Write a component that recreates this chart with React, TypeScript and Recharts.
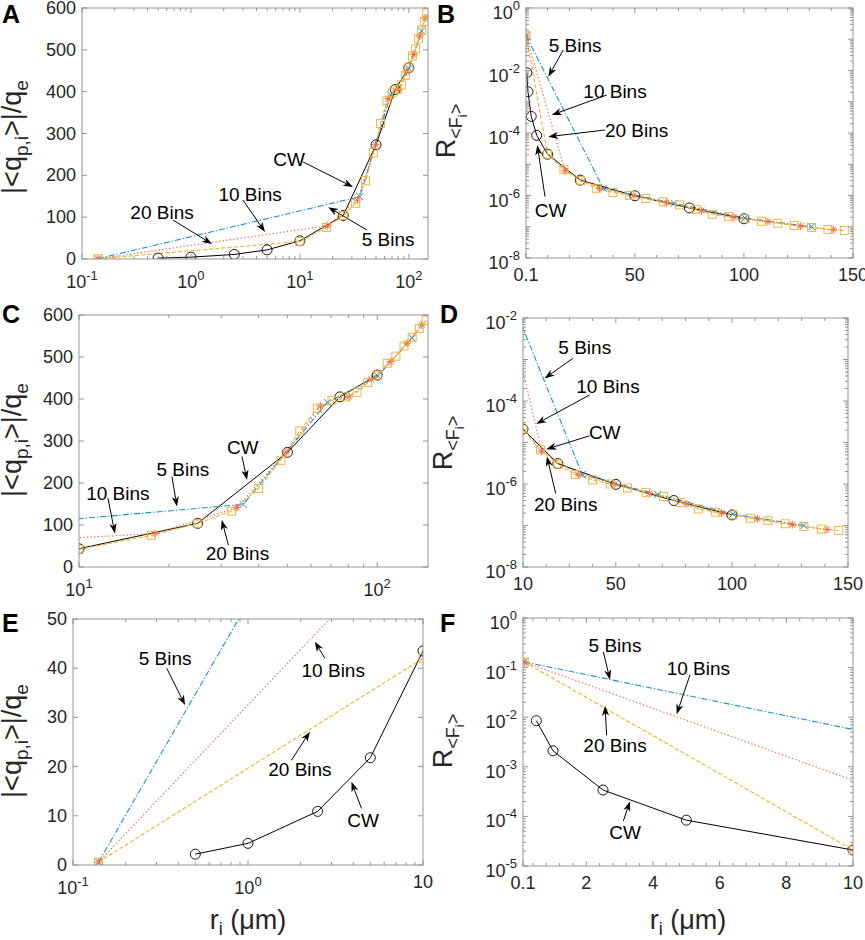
import React from 'react';
import { LineChart, Line, XAxis, YAxis, ReferenceLine, ReferenceDot } from 'recharts';

const FONT = '"Liberation Sans", Arial, Helvetica, sans-serif';
const INK = '#262626';

// ---------------- data ----------------
const cwRadius = [0.5, 1, 2.5, 5, 10, 25, 50, 75, 100];
const cwCharge = [2.2, 4.4, 10.9, 21.8, 43.5, 104, 273, 405, 457];
const cwRatio = [8.5e-3, 2.1e-3, 3.4e-4, 8.4e-5, 2.1e-5, 3.1e-6, 9.8e-7, 4.0e-7, 1.8e-7];

const bins5Radius = [0.14, 35.5, 68, 100.5, 131];
const bins5Charge = [0.6, 149, 392, 455, 545];
const bins5Ratio = [0.13, 1.7e-6, 5.6e-7, 1.9e-7, 1.0e-7];

const bins10Radius = [0.14, 18, 33.8, 49.5, 64.5, 80.5, 95.5, 111, 126, 141];
const bins10Charge = [0.6, 79.5, 141, 273, 383, 405, 447, 489, 533, 576];
const bins10Ratio = [0.13, 6.2e-6, 1.7e-6, 1.0e-6, 5.9e-7, 3.3e-7, 2.0e-7, 1.45e-7, 1.05e-7, 8.0e-8];

const bins20Radius = [0.14, 10, 17.5, 25, 32.5, 40, 47.5, 55, 63, 70.5, 78, 85.5, 93, 100.5, 108, 115.5, 123, 131, 138.5, 146];
const bins20Charge = [0.6, 42, 75.5, 104, 133, 187, 254, 324, 378, 397, 405, 416, 439, 457, 485, 502, 526, 547, 568, 588];
const bins20Ratio = [0.13, 2.1e-5, 6.7e-6, 3.0e-6, 1.7e-6, 1.25e-6, 1.0e-6, 8.0e-7, 6.3e-7, 5.0e-7, 3.6e-7, 2.5e-7, 2.1e-7, 1.8e-7, 1.5e-7, 1.3e-7, 1.1e-7, 9.5e-8, 8.2e-8, 7.6e-8];

// ---------------- ticks ----------------
const ticksAx = [0.1, 1, 10, 100];
const labelsAx = ['10^-1', '10^0', '10^1', '10^2'];
const ticksChargeY = [0, 100, 200, 300, 400, 500, 600];
const labelsChargeY = ['0', '100', '200', '300', '400', '500', '600'];
const ticksBx = [0.1, 50, 100, 150];
const labelsBx = ['0.1', '50', '100', '150'];
const ticksBy = [1, 1e-2, 1e-4, 1e-6, 1e-8];
const labelsBy = ['10^0', '10^-2', '10^-4', '10^-6', '10^-8'];
const ticksCx = [10, 100];
const labelsCx = ['10^1', '10^2'];
const ticksDx = [10, 50, 100, 150];
const labelsDx = ['10', '50', '100', '150'];
const ticksDy = [1e-2, 1e-4, 1e-6, 1e-8];
const labelsDy = ['10^-2', '10^-4', '10^-6', '10^-8'];
const ticksEx = [0.1, 1, 10];
const labelsEx = ['10^-1', '10^0', '10'];
const ticksEy = [0, 10, 20, 30, 40, 50];
const labelsEy = ['0', '10', '20', '30', '40', '50'];
const ticksFx = [0.1, 2, 4, 6, 8, 10];
const labelsFx = ['0.1', '2', '4', '6', '8', '10'];
const ticksFy = [1, 1e-1, 1e-2, 1e-3, 1e-4, 1e-5];
const labelsFy = ['10^0', '10^-1', '10^-2', '10^-3', '10^-4', '10^-5'];

const minorLogA = [0.2, 0.3, 0.4, 0.5, 0.6, 0.7, 0.8, 0.9, 2, 3, 4, 5, 6, 7, 8, 9, 20, 30, 40, 50, 60, 70, 80, 90];
const minorLogC = [20, 30, 40, 50, 60, 70, 80, 90];
const minorLogE = [0.2, 0.3, 0.4, 0.5, 0.6, 0.7, 0.8, 0.9, 2, 3, 4, 5, 6, 7, 8, 9];
const minorLinB = [10, 20, 30, 40, 60, 70, 80, 90, 110, 120, 130, 140];
const minorLinD = [20, 30, 40, 60, 70, 80, 90, 110, 120, 130, 140];
const minorLinF = [0.4, 0.8, 1.2, 1.6, 2.4, 2.8, 3.2, 3.6, 4.4, 4.8, 5.2, 5.6, 6.4, 6.8, 7.2, 7.6, 8.4, 8.8, 9.2, 9.6];
const decadesB = [1, 1e-1, 1e-2, 1e-3, 1e-4, 1e-5, 1e-6, 1e-7, 1e-8];
const decadesD = [1e-2, 1e-3, 1e-4, 1e-5, 1e-6, 1e-7, 1e-8];

function logSubTicks(lo: number, hi: number): number[] {
  const out: number[] = [];
  for (let e = Math.floor(Math.log10(lo)); e < Math.ceil(Math.log10(hi)); e++) {
    for (let k = 2; k <= 9; k++) {
      const v = k * Math.pow(10, e);
      if (v > lo && v < hi) out.push(v);
    }
  }
  return out;
}

// ---------------- series ----------------
const BLUE = '#1a90d4';
const ORANGE = '#ee6a4a';
const YELLOW = '#f0b12a';

type Marker = 'circle' | 'x' | 'star' | 'square';
interface SeriesDef {
  name: string; color: string; dash?: string; width: number; marker: Marker;
  radius: number[]; charge: number[]; ratio: number[];
}
const SERIES: SeriesDef[] = [
  { name: 'CW', color: '#000000', width: 1, marker: 'circle', radius: cwRadius, charge: cwCharge, ratio: cwRatio },
  { name: '5 Bins', color: BLUE, dash: '6 2 1.3 2', width: 1.1, marker: 'x', radius: bins5Radius, charge: bins5Charge, ratio: bins5Ratio },
  { name: '10 Bins', color: ORANGE, dash: '1.3 2.3', width: 1.2, marker: 'star', radius: bins10Radius, charge: bins10Charge, ratio: bins10Ratio },
  { name: '20 Bins', color: YELLOW, dash: '4 2.2', width: 1.1, marker: 'square', radius: bins20Radius, charge: bins20Charge, ratio: bins20Ratio },
];

interface Ann { text: string; tx: number; ty: number; a: [number, number, number, number]; }
interface Panel {
  id: string;
  rect: { l: number; t: number; r: number; b: number };
  xScale: 'log' | 'linear'; xDomain: [number, number]; xTicks: number[]; xLabels: string[]; xMinor: number[];
  yScale: 'log' | 'linear'; yDomain: [number, number]; yTicks: number[]; yLabels: string[]; yMarks: number[]; yMinor: number[];
  metric: 'q' | 'R';
  anns: Ann[];
}

const PANELS: Panel[] = [
  {
    id: 'A', rect: { l: 82, t: 8, r: 428, b: 259 },
    xScale: 'log', xDomain: [0.1, 150], xTicks: ticksAx, xLabels: labelsAx, xMinor: minorLogA,
    yScale: 'linear', yDomain: [0, 600], yTicks: ticksChargeY, yLabels: labelsChargeY, yMarks: ticksChargeY, yMinor: [],
    metric: 'q',
    anns: [
      { text: 'CW', tx: 7.96, ty: 239, a: [10.7, 232, 30.8, 172] },
      { text: '10 Bins', tx: 3.49, ty: 155, a: [3.0, 141, 4.79, 64.5] },
      { text: '20 Bins', tx: 0.543, ty: 112, a: [0.686, 93, 1.56, 36] },
      { text: '5 Bins', tx: 64.6, ty: 48, a: [41.4, 69, 18.2, 124] },
    ],
  },
  {
    id: 'B', rect: { l: 526, t: 8, r: 853, b: 258 },
    xScale: 'linear', xDomain: [0.1, 150], xTicks: ticksBx, xLabels: labelsBx, xMinor: minorLinB,
    yScale: 'log', yDomain: [1e-8, 1], yTicks: ticksBy, yLabels: labelsBy, yMarks: decadesB, yMinor: logSubTicks(1e-8, 1),
    metric: 'R',
    anns: [
      { text: '5 Bins', tx: 22.6, ty: 0.0655, a: [17.2, 0.0453, 10.3, 6.3e-3] },
      { text: '10 Bins', tx: 40.9, ty: 2.26e-3, a: [37.1, 1.64e-3, 11.9, 3.77e-4] },
      { text: '20 Bins', tx: 50.8, ty: 1.19e-4, a: [36.3, 1.25e-4, 10.3, 7.6e-5] },
      { text: 'CW', tx: 11.4, ty: 3.4e-7, a: [8.8, 9.2e-7, 5.3, 4.1e-5] },
    ],
  },
  {
    id: 'C', rect: { l: 79, t: 315, r: 428, b: 567 },
    xScale: 'log', xDomain: [10, 148], xTicks: ticksCx, xLabels: labelsCx, xMinor: minorLogC,
    yScale: 'linear', yDomain: [0, 600], yTicks: ticksChargeY, yLabels: labelsChargeY, yMarks: ticksChargeY, yMinor: [],
    metric: 'q',
    anns: [
      { text: 'CW', tx: 35.4, ty: 286, a: [35.2, 263, 36.6, 207] },
      { text: '5 Bins', tx: 22.3, ty: 233, a: [20.5, 215, 21.3, 144] },
      { text: '10 Bins', tx: 13.5, ty: 177, a: [12.5, 164, 13.2, 80] },
      { text: '20 Bins', tx: 34, ty: 33, a: [31.7, 52, 30.1, 112] },
    ],
  },
  {
    id: 'D', rect: { l: 523, t: 318, r: 848, b: 567 },
    xScale: 'linear', xDomain: [10, 150], xTicks: ticksDx, xLabels: labelsDx, xMinor: minorLinD,
    yScale: 'log', yDomain: [1e-8, 1e-2], yTicks: ticksDy, yLabels: labelsDy, yMarks: decadesD, yMinor: logSubTicks(1e-8, 1e-2),
    metric: 'R',
    anns: [
      { text: '5 Bins', tx: 36.6, ty: 1.95e-3, a: [31.5, 1.07e-3, 19.3, 3.5e-4] },
      { text: '10 Bins', tx: 46.6, ty: 2.3e-4, a: [38.7, 1.4e-4, 15.7, 2.8e-5] },
      { text: 'CW', tx: 45.2, ty: 1.74e-5, a: [38.7, 1.45e-5, 20.05, 6.9e-6] },
      { text: '20 Bins', tx: 28.4, ty: 3.2e-7, a: [24.1, 5.9e-7, 20.3, 4.6e-6] },
    ],
  },
  {
    id: 'E', rect: { l: 73, t: 619, r: 423, b: 865 },
    xScale: 'log', xDomain: [0.1, 10], xTicks: ticksEx, xLabels: labelsEx, xMinor: minorLogE,
    yScale: 'linear', yDomain: [0, 50], yTicks: ticksEy, yLabels: labelsEy, yMarks: ticksEy, yMinor: [],
    metric: 'q',
    anns: [
      { text: '5 Bins', tx: 0.336, ty: 42, a: [0.343, 40, 0.437, 32.5] },
      { text: '10 Bins', tx: 3.07, ty: 39.6, a: [2.75, 42, 2.41, 45.4] },
      { text: '20 Bins', tx: 1.98, ty: 19.5, a: [1.77, 21.3, 2.26, 27.1] },
      { text: 'CW', tx: 4.55, ty: 9.1, a: [4.45, 11.5, 3.9, 16.9] },
    ],
  },
  {
    id: 'F', rect: { l: 523, t: 618, r: 853, b: 866 },
    xScale: 'linear', xDomain: [0.1, 10], xTicks: ticksFx, xLabels: labelsFx, xMinor: minorLinF,
    yScale: 'log', yDomain: [1e-5, 1], yTicks: ticksFy, yLabels: labelsFy, yMarks: ticksFy, yMinor: logSubTicks(1e-5, 1),
    metric: 'R',
    anns: [
      { text: '5 Bins', tx: 2.86, ty: 0.29, a: [2.51, 0.209, 2.71, 0.0569] },
      { text: '10 Bins', tx: 5.36, ty: 0.0977, a: [5.11, 0.0716, 4.71, 0.0115] },
      { text: '20 Bins', tx: 2.86, ty: 2.7e-3, a: [2.61, 4.3e-3, 2.56, 0.017] },
      { text: 'CW', tx: 3.16, ty: 4.8e-5, a: [3.11, 8.1e-5, 3.31, 2.0e-4] },
    ],
  },
];

// ---------------- helpers ----------------
const YW = 70;
const XH = 45;
const MT = 22;
const MR = 30;

function lookupLabel(ticks: number[], labels: string[], v: number): string {
  const i = ticks.findIndex((t) => Math.abs(t - v) <= Math.abs(t) * 1e-6 + 1e-14);
  return i >= 0 ? labels[i] : '';
}

function renderXTick(props: any, p: Panel) {
  const { x, y, payload } = props;
  const lab = lookupLabel(p.xTicks, p.xLabels, payload.value);
  const [base, sup] = lab.split('^');
  return (
    <text x={x} y={y + (sup !== undefined ? 29 : 23)} textAnchor="middle" fontSize={18} fill={INK} fontFamily={FONT}>
      {base}
      {sup !== undefined && <tspan dy={-8} fontSize={13}>{sup}</tspan>}
    </text>
  );
}

function renderYTick(props: any, p: Panel) {
  const { x, y, payload } = props;
  const lab = lookupLabel(p.yTicks, p.yLabels, payload.value);
  const [base, sup] = lab.split('^');
  return (
    <text x={x - 6} y={y + (sup !== undefined ? 11 : 6)} textAnchor="end" fontSize={18} fill={INK} fontFamily={FONT}>
      {base}
      {sup !== undefined && <tspan dy={-9} fontSize={13}>{sup}</tspan>}
    </text>
  );
}

function makeDot(kind: Marker, color: string) {
  return (props: any) => {
    const { cx, cy, index } = props;
    const key = `m-${kind}-${index}`;
    if (typeof cx !== 'number' || typeof cy !== 'number' || !isFinite(cx) || !isFinite(cy)) return <g key={key} />;
    if (kind === 'circle') return <circle key={key} cx={cx} cy={cy} r={5} fill="none" stroke={color} strokeWidth={0.9} />;
    if (kind === 'square') return <rect key={key} x={cx - 4} y={cy - 4} width={8} height={8} fill="none" stroke={color} strokeWidth={0.9} />;
    if (kind === 'x') {
      const s = 3.5;
      return <path key={key} d={`M${cx - s},${cy - s}L${cx + s},${cy + s}M${cx - s},${cy + s}L${cx + s},${cy - s}`} stroke={color} strokeWidth={1} fill="none" />;
    }
    const s = 4, d = 2.9;
    return (
      <path key={key}
        d={`M${cx - s},${cy}L${cx + s},${cy}M${cx},${cy - s}L${cx},${cy + s}M${cx - d},${cy - d}L${cx + d},${cy + d}M${cx - d},${cy + d}L${cx + d},${cy - d}`}
        stroke={color} strokeWidth={1} fill="none" />
    );
  };
}

function arrowShape(props: any) {
  const { x1, y1, x2, y2 } = props;
  if (![x1, y1, x2, y2].every((v) => typeof v === 'number' && isFinite(v))) return <g />;
  const dx = x2 - x1, dy = y2 - y1;
  const len = Math.hypot(dx, dy) || 1;
  const ux = dx / len, uy = dy / len;
  const nx = -uy, ny = ux;
  const L = 10, W = 3.6;
  const bx = x2 - ux * L, by = y2 - uy * L;
  const mx = x2 - ux * L * 0.72, my = y2 - uy * L * 0.72;
  return (
    <g>
      <line x1={x1} y1={y1} x2={mx} y2={my} stroke="#000" strokeWidth={1} />
      <polygon points={`${x2},${y2} ${bx + nx * W},${by + ny * W} ${mx},${my} ${bx - nx * W},${by - ny * W}`} fill="#000" />
    </g>
  );
}

function annText(text: string) {
  return (props: any) => {
    const { cx, cy } = props;
    if (typeof cx !== 'number' || typeof cy !== 'number') return <g />;
    return (
      <text x={cx} y={cy} dy="0.36em" textAnchor="middle" fontSize={19} fill="#000" fontFamily={FONT}>{text}</text>
    );
  };
}

function PanelChart({ p }: { p: Panel }) {
  const { l, t, r, b } = p.rect;
  const W = r - l + YW + MR;
  const H = b - t + MT + XH;
  return (
    <div style={{ position: 'absolute', left: l - YW, top: t - MT, width: W, height: H }}>
      <LineChart width={W} height={H} margin={{ top: MT, right: MR, bottom: 0, left: 0 }}>
        <XAxis dataKey="x" type="number" scale={p.xScale} domain={p.xDomain} allowDataOverflow ticks={p.xTicks}
          interval={0} tickLine={false} axisLine={false} tickSize={0} tickMargin={0} height={XH}
          tick={(tp: any) => renderXTick(tp, p)} />
        <YAxis type="number" scale={p.yScale} domain={p.yDomain} allowDataOverflow ticks={p.yTicks}
          interval={0} tickLine={false} axisLine={false} tickSize={0} tickMargin={0} width={YW}
          tick={(tp: any) => renderYTick(tp, p)} />
        {SERIES.map((s) => (
          <Line key={s.name} data={s.radius.map((x, i) => ({ x, y: p.metric === 'q' ? s.charge[i] : s.ratio[i] }))}
            dataKey="y" type="linear" stroke={s.color} strokeWidth={s.width} strokeDasharray={s.dash}
            dot={makeDot(s.marker, s.color)} activeDot={false} isAnimationActive={false} legendType="none" />
        ))}
        {p.anns.map((a, i) => (
          <ReferenceLine key={`al-${i}`} segment={[{ x: a.a[0], y: a.a[1] }, { x: a.a[2], y: a.a[3] }]}
            ifOverflow="visible" shape={arrowShape} />
        ))}
        {p.anns.map((a, i) => (
          <ReferenceDot key={`at-${i}`} x={a.tx} y={a.ty} r={0} ifOverflow="visible" shape={annText(a.text)} />
        ))}
      </LineChart>
    </div>
  );
}

function mapVal(v: number, scale: 'log' | 'linear', d: [number, number], p0: number, p1: number) {
  if (scale === 'log') {
    const a = Math.log10(d[0]), c = Math.log10(d[1]);
    return p0 + ((Math.log10(v) - a) / (c - a)) * (p1 - p0);
  }
  return p0 + ((v - d[0]) / (d[1] - d[0])) * (p1 - p0);
}

function Frame({ p }: { p: Panel }) {
  const { l, t, r, b } = p.rect;
  const lines: React.ReactNode[] = [];
  const major = 5, minor = 3;
  const addX = (vals: number[], len: number, tag: string) => vals.forEach((v, i) => {
    if (v < p.xDomain[0] - 1e-12 || v > p.xDomain[1] + 1e-12) return;
    const px = mapVal(v, p.xScale, p.xDomain, l, r);
    lines.push(<line key={`${tag}b${i}`} x1={px} y1={b} x2={px} y2={b - len} />);
    lines.push(<line key={`${tag}t${i}`} x1={px} y1={t} x2={px} y2={t + len} />);
  });
  const addY = (vals: number[], len: number, tag: string) => vals.forEach((v, i) => {
    if (v < p.yDomain[0] * 0.999999 || v > p.yDomain[1] * 1.000001) return;
    const py = mapVal(v, p.yScale, p.yDomain, b, t);
    lines.push(<line key={`${tag}l${i}`} x1={l} y1={py} x2={l + len} y2={py} />);
    lines.push(<line key={`${tag}r${i}`} x1={r} y1={py} x2={r - len} y2={py} />);
  });
  addX(p.xTicks, major, 'xM');
  addX(p.xMinor, minor, 'xm');
  addY(p.yMarks, major, 'yM');
  addY(p.yMinor, minor, 'ym');
  return (
    <g stroke="#8a8a8a" strokeWidth={0.9} fill="none">
      <rect x={l} y={t} width={r - l} height={b - t} />
      {lines}
    </g>
  );
}

function QLabel({ x, y }: { x: number; y: number }) {
  return (
    <text transform={`translate(${x},${y}) rotate(-90)`} textAnchor="middle" fontSize={27} fill={INK} fontFamily={FONT}>
      {'|<q'}
      <tspan dy={7} fontSize={19}>p,i</tspan>
      <tspan dy={-7}>{'>|/q'}</tspan>
      <tspan dy={7} fontSize={19}>e</tspan>
    </text>
  );
}

function RLabel({ x, y }: { x: number; y: number }) {
  return (
    <text transform={`translate(${x},${y}) rotate(-90)`} textAnchor="middle" fontSize={27} fill={INK} fontFamily={FONT}>
      R
      <tspan dy={7} fontSize={18}>{'<F'}</tspan>
      <tspan dy={5} fontSize={13}>i</tspan>
      <tspan dy={-5} fontSize={18}>{'>'}</tspan>
    </text>
  );
}

function RLabelX({ x, y }: { x: number; y: number }) {
  return (
    <text x={x} y={y} textAnchor="middle" fontSize={27} fill={INK} fontFamily={FONT}>
      r
      <tspan dy={6} fontSize={18}>i</tspan>
      <tspan dy={-6}>{' (\u03BCm)'}</tspan>
    </text>
  );
}

const letterStyle = { fontSize: 25, fontWeight: 700, fill: '#000', fontFamily: FONT } as const;

function Overlay() {
  return (
    <svg width={865} height={940} style={{ position: 'absolute', left: 0, top: 0, pointerEvents: 'none' }}>
      {PANELS.map((p) => <Frame key={p.id} p={p} />)}
      <text x={2} y={23} {...letterStyle}>A</text>
      <text x={437} y={23} {...letterStyle}>B</text>
      <text x={2} y={323} {...letterStyle}>C</text>
      <text x={440} y={323} {...letterStyle}>D</text>
      <text x={2} y={632} {...letterStyle}>E</text>
      <text x={440} y={632} {...letterStyle}>F</text>
      <QLabel x={21} y={137} />
      <QLabel x={21} y={440} />
      <QLabel x={21} y={741} />
      <RLabel x={455} y={131} />
      <RLabel x={452} y={443} />
      <RLabel x={452} y={741} />
      <RLabelX x={248} y={929} />
      <RLabelX x={688} y={929} />
    </svg>
  );
}

export default function App() {
  return (
    <div style={{ position: 'absolute', left: 0, top: 0, width: 865, height: 940, background: '#fff', fontFamily: FONT }}>
      {PANELS.map((p) => <PanelChart key={p.id} p={p} />)}
      <Overlay />
    </div>
  );
}
